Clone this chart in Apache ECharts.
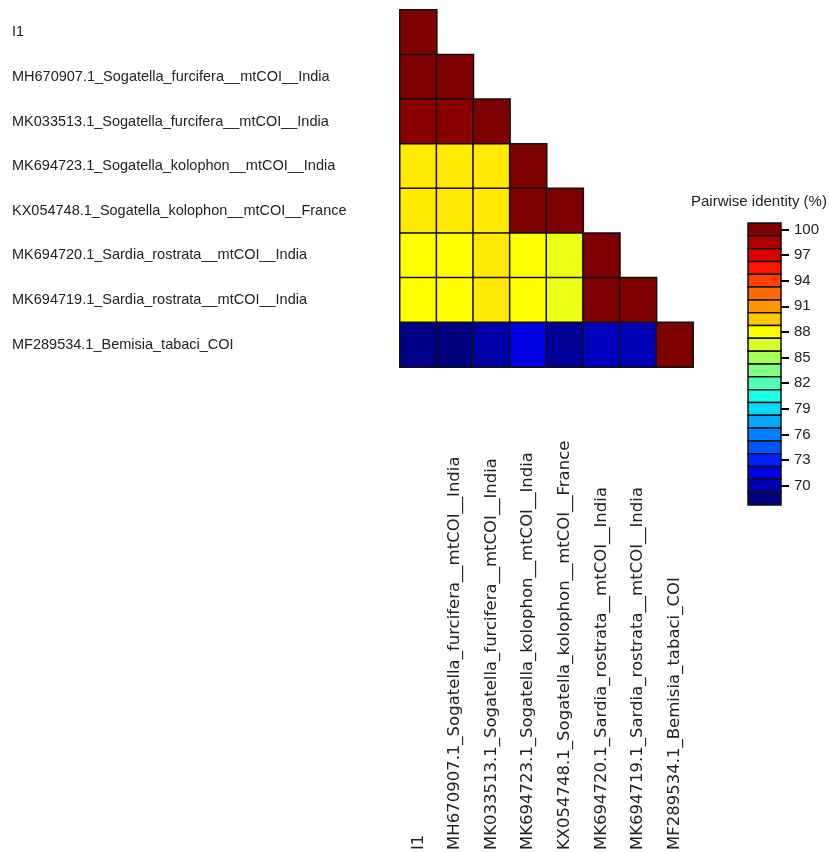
<!DOCTYPE html>
<html>
<head>
<meta charset="utf-8">
<title>Pairwise identity</title>
<script src="https://cdn.jsdelivr.net/npm/echarts@6.0.0/dist/echarts.min.js"></script>
<style>
  html, body { margin: 0; padding: 0; background: #fff; }
  #chart { width: 829px; height: 852px; }
</style>
</head>
<body>
<div id="chart"></div>
<script>
  // sequence names, top to bottom and left to right
  const names = [
    'I1',
    'MH670907.1_Sogatella_furcifera__mtCOI__India',
    'MK033513.1_Sogatella_furcifera__mtCOI__India',
    'MK694723.1_Sogatella_kolophon__mtCOI__India',
    'KX054748.1_Sogatella_kolophon__mtCOI__France',
    'MK694720.1_Sardia_rostrata__mtCOI__India',
    'MK694719.1_Sardia_rostrata__mtCOI__India',
    'MF289534.1_Bemisia_tabaci_COI'
  ]

  // lower triangle of the identity matrix (%), row i holds columns 0..i
  const identity = [
    [100],
    [100, 100],
    [99.6, 99.6, 100],
    [88.6, 88.6, 88.6, 100],
    [88.6, 88.6, 88.6, 100, 100],
    [88.0, 88.0, 88.6, 88.0, 87.3, 100],
    [88.0, 88.0, 88.6, 88.0, 87.3, 100, 100],
    [68.8, 68.5, 69.8, 71.4, 69.3, 70.4, 70.2, 100]
  ]

  // colour key: centre of each box, and the labelled ticks
  const keyBins = [100, 98.5, 97, 95.5, 94, 92.5, 91, 89.5, 88, 86.5, 85,
    83.5, 82, 80.5, 79, 77.5, 76, 74.5, 73, 71.5, 70, 68.5]
  const keyTicks = [70, 73, 76, 79, 82, 85, 88, 91, 94, 97, 100]
  const binStep = 1.5

  // palette, low to high
  const keyColors = [
    '#00007f', '#0000b0', '#0000e6', '#0020ff', '#0055ff', '#0080ff',
    '#00aaff', '#00ddff', '#1affe6', '#4dffb3', '#80ff80', '#aaff55',
    '#d4ff2a', '#ffff00', '#ffc800', '#ff9500', '#ff6a00', '#ff4000',
    '#ff1500', '#dd0000', '#aa0000', '#7f0000'
  ]

  let cells = []
  identity.forEach((row, i) => {
    row.forEach((v, j) => {
      cells.push([j, i, v])
    })
  })

  let chart = echarts.init(document.getElementById('chart'))
  let option = {
    backgroundColor: '#fff',
    animation: false,
    title: {
      text: 'Pairwise identity (%)',
      left: 691,
      top: 194,
      padding: 0,
      textStyle: {
        fontFamily: 'Liberation Sans',
        fontSize: 15,
        fontWeight: 'normal',
        color: '#222'
      }
    },
    grid: [
      { left: 400, top: 10, width: 293, height: 357, outerBoundsMode: 'none' },
      { left: 748, top: 223, width: 33, height: 282, outerBoundsMode: 'none' }
    ],
    visualMap: {
      type: 'continuous',
      show: false,
      min: 68.5,
      max: 100,
      seriesIndex: [0, 1],
      inRange: { color: keyColors }
    },
    xAxis: [
      {
        type: 'category',
        gridIndex: 0,
        data: names,
        axisLine: { show: false },
        axisTick: { show: false },
        splitLine: { show: false },
        axisLabel: {
          interval: 0,
          rotate: 90,
          align: 'left',
          verticalAlign: 'middle',
          margin: 483,
          fontFamily: 'DejaVu Sans',
          fontSize: 16.5,
          color: '#222'
        }
      },
      {
        type: 'category',
        gridIndex: 1,
        data: ['key'],
        show: false
      }
    ],
    yAxis: [
      {
        type: 'category',
        gridIndex: 0,
        data: names,
        inverse: true,
        axisLine: { show: false },
        axisTick: { show: false },
        splitLine: { show: false },
        axisLabel: {
          interval: 0,
          align: 'left',
          margin: 388,
          fontFamily: 'Liberation Sans',
          fontSize: 14.5,
          color: '#222'
        }
      },
      {
        type: 'value',
        gridIndex: 1,
        position: 'right',
        min: 67.75,
        max: 100.75,
        axisLine: { show: false },
        splitLine: { show: false },
        axisTick: {
          show: true,
          length: 8,
          customValues: keyTicks,
          lineStyle: { color: '#000', width: 2 }
        },
        axisLabel: {
          customValues: keyTicks,
          margin: 13,
          fontFamily: 'Liberation Sans',
          fontSize: 15,
          color: '#222'
        }
      }
    ],
    series: [
      {
        type: 'heatmap',
        xAxisIndex: 0,
        yAxisIndex: 0,
        data: cells,
        itemStyle: { borderColor: '#111', borderWidth: 1.5 },
        emphasis: { disabled: true }
      },
      {
        type: 'custom',
        xAxisIndex: 1,
        yAxisIndex: 1,
        data: keyBins.map(v => [0, v]),
        renderItem: function(params, api) {
          let v = api.value(1)
          let top = api.coord([0, v + binStep / 2])
          let bottom = api.coord([0, v - binStep / 2])
          let w = api.size([1, 0])[0]
          return {
            type: 'rect',
            shape: { x: top[0] - w / 2, y: top[1], width: w, height: bottom[1] - top[1] },
            style: { fill: api.visual('color'), stroke: '#111', lineWidth: 1.5 }
          }
        }
      }
    ]
  }
  chart.setOption(option)
</script>
</body>
</html>
